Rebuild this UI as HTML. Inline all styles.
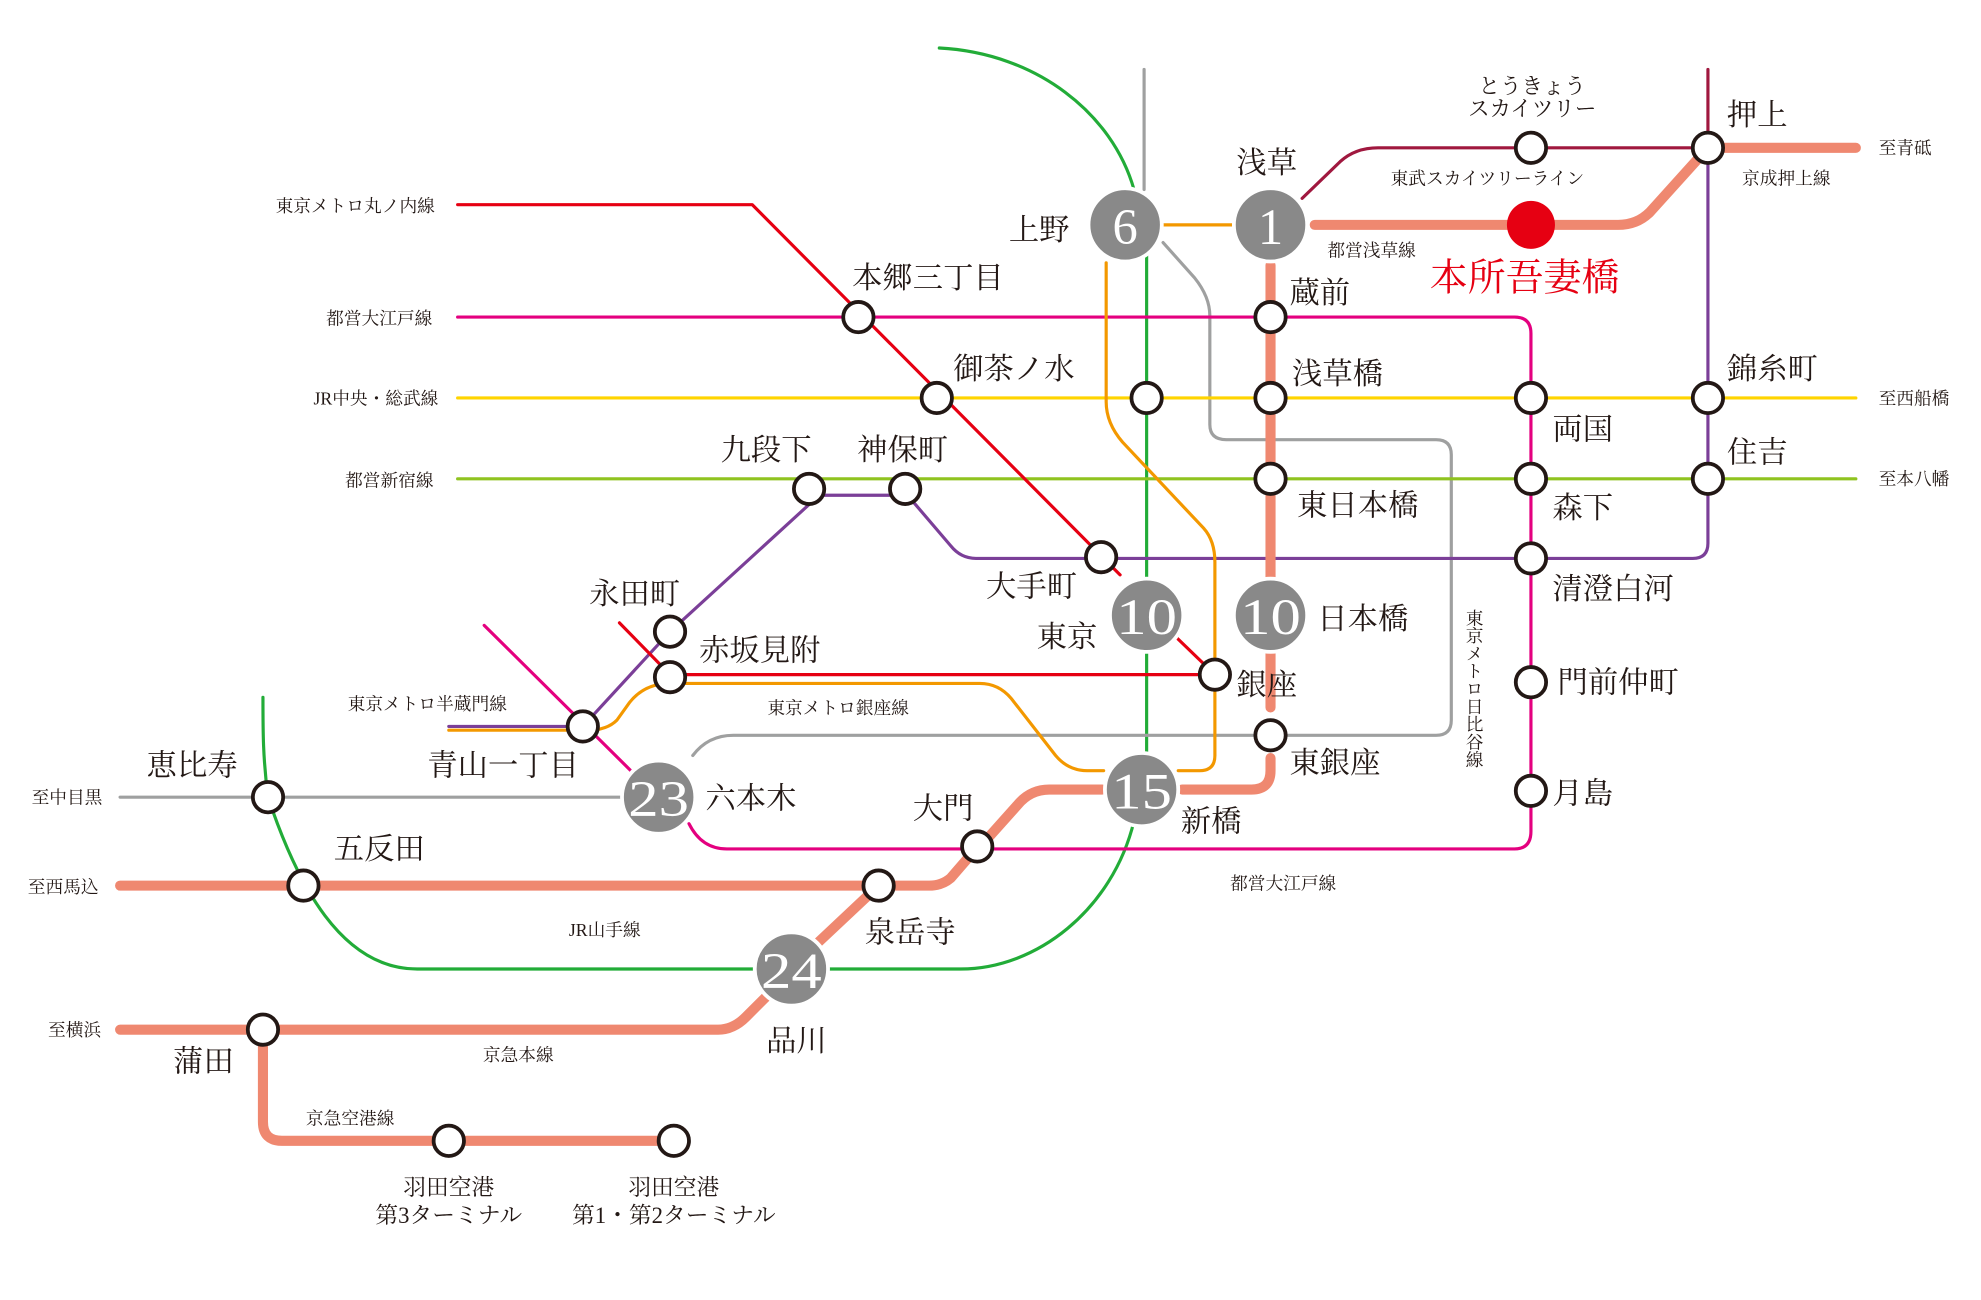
<!DOCTYPE html>
<html><head><meta charset="utf-8"><style>
html,body{margin:0;padding:0;background:#fff;}
svg{display:block;}
text{font-family:"Liberation Serif","Noto Serif CJK SC","Noto Serif CJK JP",serif;fill:#231815;}
.s{font-size:24px;}
.m{font-size:14px;}
.n{font-size:40px;fill:#fff;text-anchor:middle;}
</style></head><body>
<svg width="1981" height="1300" viewBox="0 0 1567 1029" preserveAspectRatio="none" xmlns="http://www.w3.org/2000/svg">
<g fill="none" stroke-linecap="round" stroke-linejoin="round">
<path d="M743,38 C820,42 880,90 897,150 M907,200 V600 M897,650 C880,720 820,767 760,767 H330 C270,767 235,700 212,631 C208,600 208,580 208,552" stroke="#22ac38" stroke-width="2.5"/>
<path d="M905,55 V150 M920,192 L945,220 Q957,235 957,250 V336 Q957,348 970,348 H1136 Q1148,348 1148,360 V570 Q1148,582 1136,582 H580 Q560,582 548,598 M493,631 H95" stroke="#9fa0a0" stroke-width="2.5"/>
<path d="M362,315 H1468" stroke="#ffd400" stroke-width="2.5"/>
<path d="M362,379 H1468" stroke="#8fc31f" stroke-width="2.5"/>
<path d="M362,251 H1198 Q1211,251 1211,264 V658 Q1211,672 1198,672 H575 Q555,672 545,652 M383,495 L502,613" stroke="#e4007f" stroke-width="2.5"/>
<path d="M1351,117 V430 Q1351,442 1339,442 H772 Q760,442 752,432 L723,398 Q716,392 708,392 H648 L530,500 L461,575 L355,575" stroke="#7b3f98" stroke-width="2.5"/>
<path d="M362,162 H595 L886,455 M931,505 L961,534 H530 L490,493" stroke="#e60012" stroke-width="2.5"/>
<path d="M920,178 H975 M875,208 V318 Q875,335 888,350 L952,418 Q961,428 961,445 V598 Q961,610 949,610 H932 M873,610 H860 Q845,610 835,598 L800,553 Q790,541 775,541 H530 Q510,541 498,556 L488,570 Q480,578 465,578 H355" stroke="#f39800" stroke-width="2.5"/>
<path d="M1030,157 L1060,128 Q1072,117 1090,117 H1351 V55" stroke="#a0183f" stroke-width="2.5"/>
<path d="M1040,178 H1280 Q1295,178 1305,168 L1351,117 H1468 M1005,210 V458 M1005,517 V560 M1005,600 V610 Q1005,625 990,625 H935 M872,625 H830 Q815,625 805,637 L780,665 M765,680 L752,695 Q745,701 735,701 H95 M695,701 L645,748 M608,787 L590,805 Q580,815 568,815 H95 M208,815 V888 Q208,903 223,903 H533" stroke="#ef8870" stroke-width="8"/>
</g>
<g fill="#fff" stroke="#231815" stroke-width="3">
<circle cx="1211" cy="117" r="12"/><circle cx="1351" cy="117" r="12"/>
<circle cx="679" cy="251" r="12"/><circle cx="1005" cy="251" r="12"/>
<circle cx="741" cy="315" r="12"/><circle cx="907" cy="315" r="12"/><circle cx="1005" cy="315" r="12"/><circle cx="1211" cy="315" r="12"/><circle cx="1351" cy="315" r="12"/>
<circle cx="640" cy="387" r="12"/><circle cx="716" cy="387" r="12"/><circle cx="1005" cy="379" r="12"/><circle cx="1211" cy="379" r="12"/><circle cx="1351" cy="379" r="12"/>
<circle cx="871" cy="441" r="12"/><circle cx="1211" cy="442" r="12"/>
<circle cx="530" cy="500" r="12"/><circle cx="530" cy="536" r="12"/><circle cx="961" cy="534" r="12"/><circle cx="1211" cy="540" r="12"/>
<circle cx="461" cy="575" r="12"/><circle cx="1005" cy="582" r="12"/><circle cx="1211" cy="626" r="12"/>
<circle cx="212" cy="631" r="12"/><circle cx="773" cy="670" r="12"/>
<circle cx="240" cy="701" r="12"/><circle cx="695" cy="701" r="12"/>
<circle cx="208" cy="815" r="12"/><circle cx="355" cy="903" r="12"/><circle cx="533" cy="903" r="12"/>
</g>
<circle cx="1211" cy="178" r="19" fill="#e60012"/>
<g fill="#898989" stroke="#fff" stroke-width="3">
<circle cx="890" cy="178" r="29"/><circle cx="1005" cy="178" r="29"/>
<circle cx="907" cy="487" r="29"/><circle cx="1005" cy="487" r="29"/>
<circle cx="903" cy="625" r="29"/><circle cx="521" cy="631" r="29"/><circle cx="626" cy="767" r="29"/>
</g>
<text class="n" x="890" y="193">6</text><text class="n" x="1005" y="193">1</text>
<text class="n" x="907" y="502" textLength="48" lengthAdjust="spacingAndGlyphs">10</text><text class="n" x="1005" y="502" textLength="48" lengthAdjust="spacingAndGlyphs">10</text>
<text class="n" x="903" y="640" textLength="48" lengthAdjust="spacingAndGlyphs">15</text><text class="n" x="521" y="646" textLength="48" lengthAdjust="spacingAndGlyphs">23</text><text class="n" x="626" y="782" textLength="48" lengthAdjust="spacingAndGlyphs">24</text>
<g class="s">
<text x="978" y="137" class="s">浅草</text>
<text x="798" y="190" class="s">上野</text>
<text x="1366" y="99" class="s">押上</text>
<text x="1131" y="230" style="font-size:30px;fill:#e60012">本所吾妻橋</text>
<text x="674" y="228" class="s">本郷三丁目</text>
<text x="1020" y="240" class="s">蔵前</text>
<text x="754" y="300" class="s">御茶ノ水</text>
<text x="1022" y="304" class="s">浅草橋</text>
<text x="1366" y="300" class="s">錦糸町</text>
<text x="1228" y="348" class="s">両国</text>
<text x="570" y="364" class="s">九段下</text>
<text x="678" y="364" class="s">神保町</text>
<text x="1366" y="366" class="s">住吉</text>
<text x="1026" y="408" class="s">東日本橋</text>
<text x="1228" y="410" class="s">森下</text>
<text x="780" y="472" class="s">大手町</text>
<text x="1228" y="474" class="s">清澄白河</text>
<text x="466" y="478" class="s">永田町</text>
<text x="1042" y="498" class="s">日本橋</text>
<text x="820" y="512" class="s">東京</text>
<text x="553" y="523" class="s">赤坂見附</text>
<text x="978" y="550" class="s">銀座</text>
<text x="1232" y="548" class="s">門前仲町</text>
<text x="338" y="614" class="s">青山一丁目</text>
<text x="116" y="614" class="s">恵比寿</text>
<text x="1020" y="612" class="s">東銀座</text>
<text x="558" y="640" class="s">六本木</text>
<text x="1228" y="636" class="s">月島</text>
<text x="722" y="648" class="s">大門</text>
<text x="934" y="658" class="s">新橋</text>
<text x="264" y="680" class="s">五反田</text>
<text x="684" y="746" class="s">泉岳寺</text>
<text x="606" y="832" class="s">品川</text>
<text x="137" y="848" class="s">蒲田</text>
</g>
<g class="m">
<text x="1212" y="74" text-anchor="middle" style="font-size:17px">とうきょう</text>
<text x="1212" y="92" text-anchor="middle" style="font-size:17px">スカイツリー</text>
<text x="1100" y="146" class="m">東武スカイツリーライン</text>
<text x="1050" y="203" class="m">都営浅草線</text>
<text x="1378" y="146" class="m">京成押上線</text>
<text x="1486" y="122" class="m">至青砥</text>
<text x="1486" y="320" class="m">至西船橋</text>
<text x="1486" y="384" class="m">至本八幡</text>
<text x="218" y="168" class="m">東京メトロ丸ノ内線</text>
<text x="258" y="257" class="m">都営大江戸線</text>
<text x="248" y="320" class="m">JR中央・総武線</text>
<text x="273" y="385" class="m">都営新宿線</text>
<text x="275" y="562" class="m">東京メトロ半蔵門線</text>
<text x="607" y="565" class="m">東京メトロ銀座線</text>
<text x="25" y="636" class="m">至中目黒</text>
<text x="22" y="707" class="m">至西馬込</text>
<text x="450" y="741" class="m">JR山手線</text>
<text x="973" y="704" class="m">都営大江戸線</text>
<text x="38" y="820" class="m">至横浜</text>
<text x="382" y="840" class="m">京急本線</text>
<text x="242" y="890" class="m">京急空港線</text>
<text x="1166" y="482" class="m" style="writing-mode:vertical-rl" text-anchor="start">東京メトロ日比谷線</text>
<text x="355" y="946" text-anchor="middle" style="font-size:18px">羽田空港</text>
<text x="355" y="968" text-anchor="middle" style="font-size:18px">第3ターミナル</text>
<text x="533" y="946" text-anchor="middle" style="font-size:18px">羽田空港</text>
<text x="533" y="968" text-anchor="middle" style="font-size:18px">第1・第2ターミナル</text>
</g>
</svg>
</body></html>
